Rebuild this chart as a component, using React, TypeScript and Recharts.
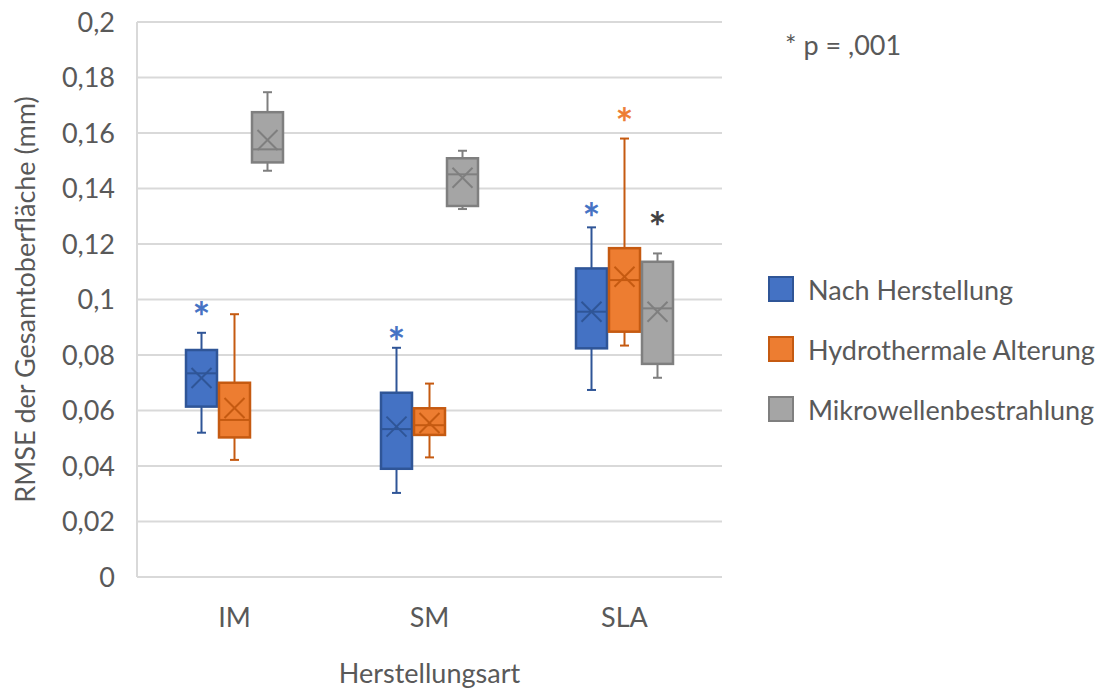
import { ComposedChart, Bar, XAxis, YAxis, CartesianGrid } from "recharts";

// Box-plot stats per category, order: [min, q1, median, q3, max, mean]
const categories = ["IM", "SM", "SLA"];

const nachHerstellung = [
  [0.052, 0.0614, 0.0734, 0.0818, 0.088, 0.0717],
  [0.0303, 0.039, 0.0533, 0.0664, 0.0826, 0.0542],
  [0.0674, 0.0824, 0.0956, 0.1112, 0.126, 0.0956],
];
const hydrothermal = [
  [0.0422, 0.0503, 0.0566, 0.07, 0.0947, 0.0609],
  [0.0431, 0.0512, 0.0547, 0.0608, 0.0697, 0.0555],
  [0.0834, 0.0884, 0.107, 0.1185, 0.158, 0.1082],
];
const mikrowelle = [
  [0.1464, 0.1494, 0.1541, 0.1675, 0.1747, 0.1575],
  [0.1326, 0.1337, 0.1451, 0.1509, 0.1536, 0.1439],
  [0.0718, 0.0768, 0.0968, 0.1136, 0.1166, 0.0956],
];

// where a "*" sits (y value), null = no marker
const starsNach = [0.0956, 0.0864, 0.131];
const starsHydro = [null, null, 0.1653];
const starsMikro = [null, null, 0.128];

const yTicks = [0, 0.02, 0.04, 0.06, 0.08, 0.1, 0.12, 0.14, 0.16, 0.18, 0.2];

const series = [
  { key: "nach", name: "Nach Herstellung", stats: nachHerstellung, stars: starsNach, fill: "#4472C4", stroke: "#2F5597", star: "#4472C4" },
  { key: "hydro", name: "Hydrothermale Alterung", stats: hydrothermal, stars: starsHydro, fill: "#ED7D31", stroke: "#C55A11", star: "#ED7D31" },
  { key: "mikro", name: "Mikrowellenbestrahlung", stats: mikrowelle, stars: starsMikro, fill: "#A5A5A5", stroke: "#7F7F7F", star: "#404040" },
];

const data = categories.map((cat, i) => {
  const row: any = { cat };
  series.forEach((s) => {
    row[s.key] = [s.stats[i][0], s.stats[i][4]];
    row[s.key + "Stats"] = s.stats[i];
    row[s.key + "Star"] = s.stars[i];
  });
  return row;
});

const FONT = "Lato, 'Open Sans', sans-serif";
const TEXT = "#595959";
const FS = 27;

function fmtTick(v: number): string {
  return String(Number(v.toFixed(2))).replace(".", ",");
}

function makeBoxShape(key: string, fill: string, stroke: string, starColor: string) {
  return (props: any) => {
    const { x, y, width, height, payload } = props;
    const st = payload[key + "Stats"];
    const star = payload[key + "Star"];
    const [mn, q1, med, q3, mx, mean] = st;
    const top = Math.min(y, y + height);
    const bottom = Math.max(y, y + height);
    const k = (bottom - top) / (mx - mn);
    const py = (v: number) => bottom - (v - mn) * k;
    const cx = x + width / 2;
    const cap = 4.5;
    const xs = 10;
    const ym = py(mean);
    return (
      <g>
        <line x1={cx} x2={cx} y1={py(mx)} y2={py(q3)} stroke={stroke} strokeWidth={2} />
        <line x1={cx} x2={cx} y1={py(q1)} y2={py(mn)} stroke={stroke} strokeWidth={2} />
        <line x1={cx - cap} x2={cx + cap} y1={py(mx)} y2={py(mx)} stroke={stroke} strokeWidth={2} />
        <line x1={cx - cap} x2={cx + cap} y1={py(mn)} y2={py(mn)} stroke={stroke} strokeWidth={2} />
        <rect x={x} y={py(q3)} width={width} height={py(q1) - py(q3)} fill={fill} stroke={stroke} strokeWidth={2.5} />
        <line x1={x} x2={x + width} y1={py(med)} y2={py(med)} stroke={stroke} strokeWidth={2} />
        <line x1={cx - xs} x2={cx + xs} y1={ym - xs} y2={ym + xs} stroke={stroke} strokeWidth={2} />
        <line x1={cx - xs} x2={cx + xs} y1={ym + xs} y2={ym - xs} stroke={stroke} strokeWidth={2} />
        {star != null && (
          <text
            x={cx}
            y={py(star) + 21}
            textAnchor="middle"
            fontSize={42}
            fontFamily={FONT}
            fill={starColor}
            stroke={starColor}
            strokeWidth={0.6}
          >
            *
          </text>
        )}
      </g>
    );
  };
}

function LegendBox() {
  return (
    <div style={{ position: "absolute", left: 768, top: 259, fontFamily: FONT, fontSize: FS, color: TEXT }}>
      {series.map((s) => (
        <div key={s.key} style={{ display: "flex", alignItems: "center", height: 60, whiteSpace: "nowrap" }}>
          <div
            style={{
              width: 22,
              height: 22,
              background: s.fill,
              border: `2px solid ${s.stroke}`,
              marginRight: 14,
              flex: "none",
            }}
          />
          <span>{s.name}</span>
        </div>
      ))}
    </div>
  );
}

export default function App() {
  return (
    <div style={{ position: "fixed", left: 0, top: 0, width: 1109, height: 689, background: "#fff", overflow: "hidden" }}>
      <ComposedChart
        width={1109}
        height={689}
        data={data}
        margin={{ top: 22, right: 387, bottom: 0, left: 0 }}
        barSize={31}
        barGap={2}
      >
        <CartesianGrid vertical={false} stroke="#D9D9D9" strokeWidth={2} />
        <XAxis
          dataKey="cat"
          height={112}
          stroke="#D9D9D9"
          strokeWidth={2}
          tickLine={false}
          tickSize={0}
          tickMargin={31}
          tick={{ fill: TEXT, fontSize: FS, fontFamily: FONT }}
          label={{
            value: "Herstellungsart",
            position: "insideBottom",
            offset: 6,
            fill: TEXT,
            fontSize: FS,
            fontFamily: FONT,
          }}
        />
        <YAxis
          width={137}
          domain={[0, 0.2]}
          ticks={yTicks}
          tickFormatter={fmtTick}
          stroke="#D9D9D9"
          strokeWidth={2}
          tickLine={false}
          tickSize={0}
          tickMargin={22}
          tick={{ fill: TEXT, fontSize: FS, fontFamily: FONT }}
          label={{
            value: "RMSE der Gesamtoberfläche (mm)",
            angle: -90,
            position: "insideLeft",
            offset: 25,
            fill: TEXT,
            fontSize: FS,
            fontFamily: FONT,
            style: { textAnchor: "middle" },
          }}
        />
        {series.map((s) => (
          <Bar
            key={s.key}
            dataKey={s.key}
            name={s.name}
            fill={s.fill}
            isAnimationActive={false}
            shape={makeBoxShape(s.key, s.fill, s.stroke, s.star)}
          />
        ))}
      </ComposedChart>
      <LegendBox />
      <div
        style={{
          position: "absolute",
          left: 785,
          top: 28,
          fontFamily: FONT,
          fontSize: FS,
          color: TEXT,
          whiteSpace: "pre",
        }}
      >
        {"* p = ,001"}
      </div>
    </div>
  );
}
